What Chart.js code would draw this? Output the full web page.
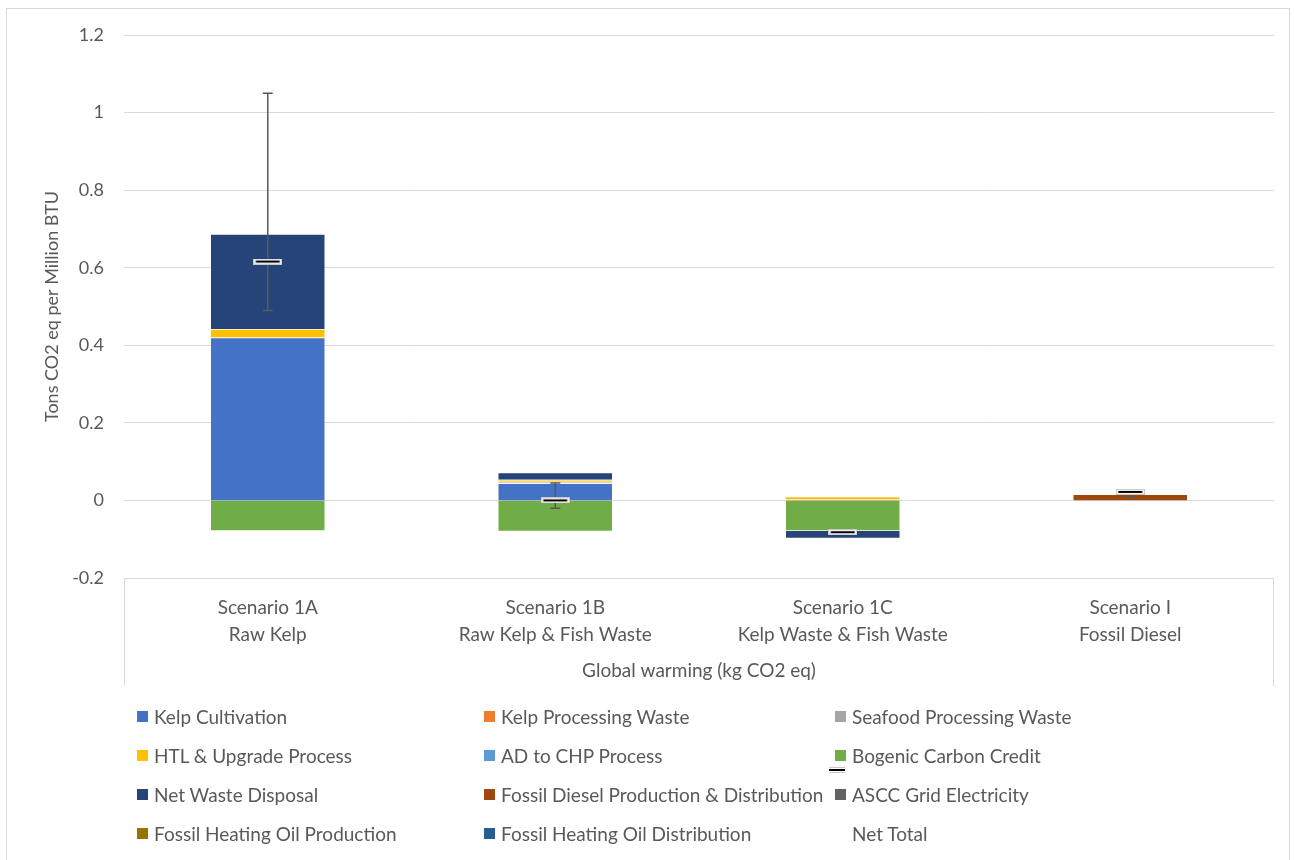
<!DOCTYPE html>
<html>
<head>
<meta charset="utf-8">
<script src="https://cdn.jsdelivr.net/npm/chart.js@4.4.1/dist/chart.umd.min.js"></script>
<style>
  body { margin: 0; background: #fff; font-family: Lato, sans-serif; }
  #wrap { position: relative; width: 1294px; height: 860px; overflow: hidden; }
  #frame { position: absolute; left: 6px; top: 8px; width: 1284px; height: 870px; border: 1px solid #d9d9d9; box-sizing: border-box; }
  #chart { position: absolute; left: 0; top: 0; }
  #legend { position: absolute; left: 137px; top: 697px; display: grid;
            grid-template-columns: 347px 351px 300px; grid-auto-rows: 39px;
            font-size: 19px; color: #595959; }
  .item { display: flex; align-items: center; white-space: nowrap; }
  .sw { width: 11px; height: 11px; margin-right: 6px; flex: none; }
  #strayMark { position: absolute; left: 829px; top: 767px; }
</style>
</head>
<body>
<div id="wrap">
  <div id="frame"></div>
  <canvas id="chart" width="1294" height="860"></canvas>
  <div id="legend"></div>
</div>
<script>
// Categories (two-line labels)
const categories = [
  ["Scenario 1A", "Raw Kelp"],
  ["Scenario 1B", "Raw Kelp & Fish Waste"],
  ["Scenario 1C", "Kelp Waste & Fish Waste"],
  ["Scenario I", "Fossil Diesel"],
];

// Series values (tons CO2 eq per million BTU)
const kelpCultivation = [0.42, 0.044, 0, 0];
const kelpProcessingWaste = [0, 0, 0.004, 0];
const seafoodProcessingWaste = [0, 0.004, 0, 0];
const htlUpgrade = [0.022, 0.005, 0.006, 0];
const adToChp = [0, 0, 0, 0];
const bogenicCredit = [-0.079, -0.08, -0.079, 0];
const netWasteDisposal = [0.245, 0.019, -0.019, 0];
const fossilDiesel = [0, 0, 0, 0.016];
const asccGrid = [0, 0, 0, 0];
const heatingOilProduction = [0, 0, 0, 0];
const heatingOilDistribution = [0, 0, 0, 0];
const netTotal = [0.616, 0.0, -0.082, 0.022];
const errPlus = [0.434, 0.045, 0, 0];
const errMinus = [0.126, 0.02, 0, 0.013];

// Y axis ticks
const yMin = -0.2;
const yMax = 1.2;
const yStep = 0.2;

const textColor = "#595959";
const gridColor = "#d9d9d9";

const series = [
  ["Kelp Cultivation", kelpCultivation, "#4472C4"],
  ["Kelp Processing Waste", kelpProcessingWaste, "#ED7D31"],
  ["Seafood Processing Waste", seafoodProcessingWaste, "#A5A5A5"],
  ["HTL & Upgrade Process", htlUpgrade, "#FFC000"],
  ["AD to CHP Process", adToChp, "#5B9BD5"],
  ["Bogenic Carbon Credit", bogenicCredit, "#70AD47"],
  ["Net Waste Disposal", netWasteDisposal, "#264478"],
  ["Fossil Diesel Production & Distribution", fossilDiesel, "#9E480E"],
  ["ASCC Grid Electricity", asccGrid, "#636363"],
  ["Fossil Heating Oil Production", heatingOilProduction, "#997300"],
  ["Fossil Heating Oil Distribution", heatingOilDistribution, "#255E91"],
];

// Net total marker: black dash on a white plate
function makeMarker() {
  const c = document.createElement("canvas");
  c.width = 29;
  c.height = 6;
  const g = c.getContext("2d");
  g.fillStyle = "#ffffff";
  g.fillRect(0, 0, 29, 6);
  g.strokeStyle = "#c8c8c8";
  g.lineWidth = 1;
  g.strokeRect(0.5, 0.5, 28, 5);
  g.fillStyle = "#000000";
  g.fillRect(2.5, 2, 24, 2);
  return c;
}
const marker = makeMarker();

const datasets = series.map(([label, data, color]) => ({
  label,
  data,
  backgroundColor: color,
  borderColor: "rgba(255,255,255,0.4)",
  borderWidth: 0.75,
  stack: "main",
  categoryPercentage: 1,
  barPercentage: 0.4,
}));

datasets.push({
  type: "line",
  label: "Net Total",
  data: netTotal,
  stack: "net",
  showLine: false,
  pointStyle: marker,
  order: -1,
});
const netIndex = datasets.length - 1;

// Error bars for the net total, drawn just under the markers
const errorBars = {
  id: "errorBars",
  beforeDatasetDraw(chart, args) {
    if (args.index !== netIndex) return;
    const { ctx, scales: { x, y } } = chart;
    ctx.save();
    ctx.strokeStyle = "#595959";
    ctx.lineWidth = 1.5;
    netTotal.forEach((v, i) => {
      const px = x.getPixelForValue(i);
      const pv = y.getPixelForValue(v);
      const ends = [];
      if (errPlus[i] > 0) ends.push(y.getPixelForValue(v + errPlus[i]));
      if (errMinus[i] > 0) ends.push(y.getPixelForValue(v - errMinus[i]));
      ends.forEach((py) => {
        ctx.beginPath();
        ctx.moveTo(px, pv);
        ctx.lineTo(px, py);
        ctx.moveTo(px - 5, py);
        ctx.lineTo(px + 5, py);
        ctx.stroke();
      });
    });
    ctx.restore();
  },
};

// Side rules of the category label box
const categoryBox = {
  id: "categoryBox",
  afterDraw(chart) {
    const { ctx, chartArea: a } = chart;
    ctx.save();
    ctx.strokeStyle = gridColor;
    ctx.lineWidth = 1;
    ctx.beginPath();
    ctx.moveTo(a.left + 0.5, a.bottom);
    ctx.lineTo(a.left + 0.5, a.bottom + 108);
    ctx.moveTo(a.right - 0.5, a.bottom);
    ctx.lineTo(a.right - 0.5, a.bottom + 108);
    ctx.stroke();
    ctx.restore();
  },
};

const chart = new Chart(document.getElementById("chart").getContext("2d"), {
  type: "bar",
  data: { labels: categories, datasets },
  options: {
    responsive: false,
    animation: false,
    events: [],
    layout: { padding: { left: 0, right: 20, top: 35, bottom: 170 } },
    plugins: {
      legend: { display: false },
      tooltip: { enabled: false },
    },
    scales: {
      x: {
        stacked: true,
        grid: { display: false },
        border: { display: false },
        ticks: { color: textColor, font: { family: "Lato", size: 19, lineHeight: 1.42 }, padding: 8, maxRotation: 0 },
        title: {
          display: true,
          text: "Global warming (kg CO2 eq)",
          color: textColor,
          font: { family: "Lato", size: 19 },
          padding: { top: 4, bottom: 8 },
        },
        afterFit(scale) {
          scale.height = 112;
        },
      },
      y: {
        stacked: true,
        min: yMin,
        max: yMax,
        ticks: {
          stepSize: yStep,
          color: textColor,
          font: { family: "Lato", size: 18 },
          padding: 20,
          callback: (v) => String(Number(v.toFixed(2)) + 0),
        },
        grid: { color: gridColor, drawTicks: false },
        border: { display: false },
        title: {
          display: true,
          text: "Tons CO2 eq per Million BTU",
          color: textColor,
          font: { family: "Lato", size: 18 },
          padding: { top: 41, bottom: 0 },
        },
        afterFit(scale) {
          scale.width = 124;
        },
      },
    },
  },
  plugins: [errorBars, categoryBox],
});

// HTML legend in three columns, built from the chart's datasets
const legendEl = document.getElementById("legend");
chart.data.datasets.forEach((ds) => {
  const item = document.createElement("div");
  item.className = "item";
  const sw = document.createElement("span");
  sw.className = "sw";
  sw.style.background = ds.type === "line" ? "transparent" : ds.backgroundColor;
  const txt = document.createElement("span");
  txt.textContent = ds.label;
  item.appendChild(sw);
  item.appendChild(txt);
  legendEl.appendChild(item);
});

// Net Total legend symbol (sits off its row, as in the original)
const stray = document.createElement("canvas");
stray.id = "strayMark";
stray.width = 16;
stray.height = 6;
stray.getContext("2d").drawImage(marker, 6, 0, 16, 6, 0, 0, 16, 6);
document.getElementById("wrap").appendChild(stray);
</script>
</body>
</html>
